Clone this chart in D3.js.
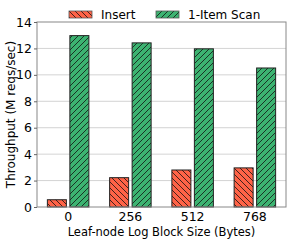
<!DOCTYPE html>
<html>
<head>
<meta charset="utf-8">
<script src="https://cdn.jsdelivr.net/npm/d3@7"></script>
<style>
  body { margin: 0; background: #fff; }
  svg { display: block; font-family: "DejaVu Sans", sans-serif; }
</style>
</head>
<body>
<svg id="chart" width="291" height="241"></svg>
<script>
// Chart data
const blockSizes = ["0", "256", "512", "768"];
const seriesNames = ["Insert", "1-Item Scan"];
const insertValues = [0.55, 2.22, 2.8, 2.96];
const scanValues = [12.97, 12.42, 11.97, 10.52];
const yTicks = [0, 2, 4, 6, 8, 10, 12, 14];

const colors = ["#ff6347", "#3cb371"];
const hatches = ["back", "fwd"];

const svg = d3.select("#chart");
const margin = { left: 37, right: 5, top: 22, bottom: 34 };
const width = 291, height = 241;

// Hatch patterns
const defs = svg.append("defs");
function addHatch(id, color, dir) {
    const p = defs.append("pattern")
        .attr("id", id)
        .attr("patternUnits", "userSpaceOnUse")
        .attr("width", 6).attr("height", 6);
    p.append("rect").attr("width", 6).attr("height", 6).attr("fill", color);
    const d = dir === "fwd"
        ? "M0,6 L6,0 M-1,1 L1,-1 M5,7 L7,5"
        : "M0,0 L6,6 M-1,5 L1,7 M5,-1 L7,1";
    p.append("path").attr("d", d).attr("stroke", "#111").attr("stroke-width", 0.8);
}
addHatch("hatch0", colors[0], hatches[0]);
addHatch("hatch1", colors[1], hatches[1]);

const x = d3.scaleBand()
    .domain(blockSizes)
    .range([margin.left, width - margin.right])
    .padding(0);

const y = d3.scaleLinear()
    .domain([0, 14])
    .range([height - margin.bottom, margin.top]);

// Grid
svg.append("g")
    .selectAll("line")
    .data(yTicks.slice(1, -1))
    .join("line")
    .attr("x1", margin.left).attr("x2", width - margin.right)
    .attr("y1", d => y(d)).attr("y2", d => y(d))
    .attr("stroke", "#c8c8c8").attr("stroke-width", 0.8);

// Bars
const barW = 19, gap = 3.5;
const series = [insertValues, scanValues];
series.forEach((vals, si) => {
    svg.append("g")
        .selectAll("rect")
        .data(vals)
        .join("rect")
        .attr("x", (d, i) => x(blockSizes[i]) + x.bandwidth() / 2 + (si === 0 ? -gap / 2 - barW : gap / 2))
        .attr("y", d => y(d))
        .attr("width", barW)
        .attr("height", d => y(0) - y(d))
        .attr("fill", `url(#hatch${si})`)
        .attr("stroke", "#222")
        .attr("stroke-width", 1);
});

// Frame
svg.append("rect")
    .attr("x", margin.left).attr("y", margin.top)
    .attr("width", width - margin.left - margin.right)
    .attr("height", height - margin.top - margin.bottom)
    .attr("fill", "none").attr("stroke", "#888").attr("stroke-width", 1);

// Axes
const yAxis = svg.append("g")
    .attr("transform", `translate(${margin.left},0)`)
    .call(d3.axisLeft(y).tickValues(yTicks).tickSize(3).tickPadding(2));
yAxis.select(".domain").remove();
yAxis.selectAll("line").attr("stroke", "#666");
yAxis.selectAll("text").attr("font-size", 12.5).attr("fill", "#000").attr("font-family", "DejaVu Sans");

const xAxis = svg.append("g")
    .attr("transform", `translate(0,${height - margin.bottom})`)
    .call(d3.axisBottom(x).tickSize(0).tickPadding(5));
xAxis.select(".domain").remove();
xAxis.selectAll("text").attr("font-size", 12.5).attr("fill", "#000").attr("font-family", "DejaVu Sans");

// Axis labels
svg.append("text")
    .attr("x", (margin.left + width - margin.right) / 2)
    .attr("y", 236)
    .attr("text-anchor", "middle")
    .attr("font-size", 11.5)
    .text("Leaf-node Log Block Size (Bytes)");

svg.append("text")
    .attr("transform", `translate(14.5,${(margin.top + height - margin.bottom) / 2}) rotate(-90)`)
    .attr("text-anchor", "middle")
    .attr("font-size", 12)
    .text("Throughput (M reqs/sec)");

// Legend
const legendX = [69, 156];
seriesNames.forEach((name, i) => {
    const g = svg.append("g").attr("transform", `translate(${legendX[i]},11)`);
    g.append("rect").attr("width", 23).attr("height", 7)
        .attr("fill", `url(#hatch${i})`).attr("stroke", "#555").attr("stroke-width", 0.8);
    g.append("text").attr("x", 32).attr("y", 7.5)
        .attr("font-size", 12).text(name);
});
</script>
</body>
</html>
